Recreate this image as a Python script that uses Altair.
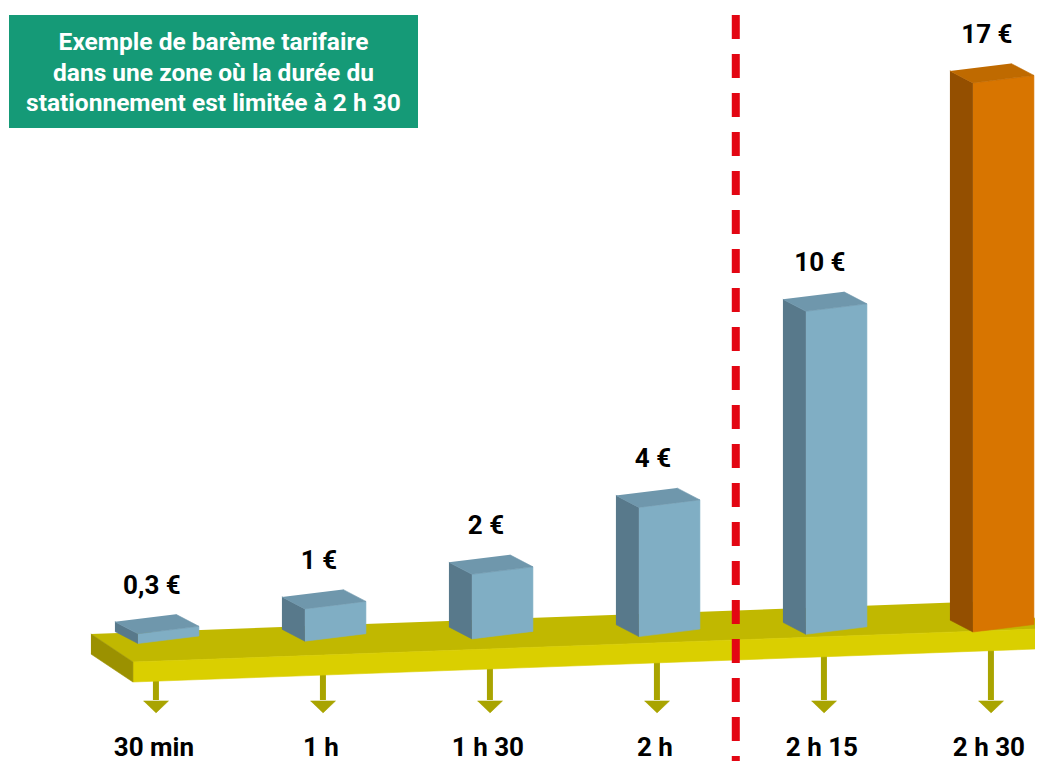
import altair as alt
import pandas as pd

# ---------------- data ----------------
durations = ["30 min", "1 h", "1 h 30", "2 h", "2 h 15", "2 h 30"]
prices = [0.3, 1, 2, 4, 10, 17]
over_limit = [False, False, False, False, False, True]
title_lines = [
    "Exemple de barème tarifaire",
    "dans une zone où la durée du",
    "stationnement est limitée à 2 h 30",
]
limit_position = 3.58  # where the 2 h 30 limit line sits, in category slots

# ---------------- geometry / style ----------------
W, H = 1027, 753
PX_X = 167.0   # pixels per category slot
PX_Y = 32.3    # pixels per euro
X0 = -0.778
X1 = X0 + W / PX_X
Y1 = 635.5 / PX_Y
Y0 = Y1 - H / PX_Y


def sx(p):
    return p / PX_X


def sy(p):
    return p / PX_Y


FONT = "Roboto"

BAR_W = sx(61)
SIDE_DX = sx(-23)
SIDE_DY = sy(12)
SLANT = sy(7.5)
BASE_SLOPE = sy(2.3)

FLOOR_L = sx(-5)
FLOOR_R = 5.4615
FLOOR_FY = -0.573
FLOOR_SLOPE = 0.1889
FLOOR_T = sy(20)
FLOOR_DX = sx(-42)
FLOOR_DY = sy(28)

ARROW_OFF = sx(18)
HEAD_TOP = Y1 - 693 / PX_Y
HEAD_TIP = Y1 - 705 / PX_Y
HEAD_HW = sx(12.5)

BLUE = {"front": "#80AEC4", "side": "#58798B", "top": "#6F97AC"}
ORANGE = {"front": "#D87500", "side": "#944F00", "top": "#BF6A00"}
FLOOR_COL = {"top": "#C1B800", "front": "#DACF00", "side": "#9B9100"}
ARROW_COL = "#A9A400"
RED = "#E30613"
TITLE_BG = "#159A77"


def floor_front_y(x):
    return FLOOR_FY + (x - FLOOR_L) * FLOOR_SLOPE


def add_poly(pid, pts, col, rows_list):
    for k, (x, y) in enumerate(pts):
        rows_list.append({"pid": pid, "k": k, "x": x, "y": y, "col": col})


# floor
floor_rows = []
fl = (FLOOR_L, floor_front_y(FLOOR_L))
fr = (FLOOR_R, floor_front_y(FLOOR_R))
bl = (fl[0] + FLOOR_DX, fl[1] + FLOOR_DY)
br = (fr[0] + FLOOR_DX, fr[1] + FLOOR_DY)
add_poly("floor_top", [bl, fl, fr, br], FLOOR_COL["top"], floor_rows)
add_poly("floor_front", [fl, fr, (fr[0], fr[1] - FLOOR_T), (fl[0], fl[1] - FLOOR_T)], FLOOR_COL["front"], floor_rows)
add_poly("floor_side", [bl, fl, (fl[0], fl[1] - FLOOR_T), (bl[0], bl[1] - FLOOR_T)], FLOOR_COL["side"], floor_rows)
floor_df = pd.DataFrame(floor_rows)

# bars
bar_rows = []
label_rows = []
for i, (d, v, over) in enumerate(zip(durations, prices, over_limit)):
    pal = ORANGE if over else BLUE
    L, R = float(i), i + BAR_W
    b = i * BASE_SLOPE
    t = b + v
    add_poly(f"side{i}", [(L + SIDE_DX, b + SIDE_DY), (L, b), (L, t), (L + SIDE_DX, t + SIDE_DY)], pal["side"], bar_rows)
    add_poly(f"front{i}", [(L, b), (R, b + SLANT), (R, t + SLANT), (L, t)], pal["front"], bar_rows)
    add_poly(f"top{i}", [(L + SIDE_DX, t + SIDE_DY), (L, t), (R, t + SLANT), (R + SIDE_DX, t + SLANT + SIDE_DY)], pal["top"], bar_rows)
    label_rows.append({"x": L + sx(14), "y": t, "txt": f"{v:g}".replace(".", ",") + " €"})
bar_df = pd.DataFrame(bar_rows)
value_df = pd.DataFrame(label_rows)

# arrows and duration labels
stem_rows, head_rows, cat_rows = [], [], []
for i, d in enumerate(durations):
    ax = i + ARROW_OFF
    stem_rows.append({"x": ax, "y": floor_front_y(ax) - FLOOR_T + sy(3), "y2": HEAD_TOP + sy(1)})
    add_poly(f"head{i}", [(ax - HEAD_HW, HEAD_TOP), (ax + HEAD_HW, HEAD_TOP), (ax, HEAD_TIP)], ARROW_COL, head_rows)
    cat_rows.append({"x": ax - sx(2), "y": Y0, "txt": d})
stem_df = pd.DataFrame(stem_rows)
head_df = pd.DataFrame(head_rows)
cat_df = pd.DataFrame(cat_rows)

limit_df = pd.DataFrame([{"x": limit_position, "y": Y1 - 7 / PX_Y, "y2": Y0}])

title_box_df = pd.DataFrame([{"x": X0 + sx(1), "x2": X0 + sx(410), "y": Y1 - 7 / PX_Y, "y2": Y1 - 120 / PX_Y}])
title_df = pd.DataFrame([
    {"x": X0 + sx(205.5), "y": Y1 - 42 / PX_Y - k * sy(30.5), "txt": line}
    for k, line in enumerate(title_lines)
])

# ---------------- chart ----------------
xs = alt.Scale(domain=[X0, X1], nice=False, zero=False)
ys = alt.Scale(domain=[Y0, Y1], nice=False, zero=False)
X = alt.X("x:Q", scale=xs, axis=None)
Y = alt.Y("y:Q", scale=ys, axis=None)


def polys(df):
    return alt.Chart(df).mark_line(filled=True, strokeWidth=0.6, interpolate="linear").encode(
        x=X, y=Y, order=alt.Order("k:Q"), detail="pid:N",
        color=alt.Color("col:N", scale=None),
        stroke=alt.Stroke("col:N", scale=None),
    )


stems = alt.Chart(stem_df).mark_rule(strokeWidth=6, color=ARROW_COL, strokeCap="butt").encode(
    x=X, y=Y, y2="y2:Q")
heads = polys(head_df)
floor = polys(floor_df)
bars = polys(bar_df)
limit = alt.Chart(limit_df).mark_rule(strokeWidth=8, color=RED, strokeDash=[24, 15], strokeCap="butt").encode(
    x=X, y=Y, y2="y2:Q")
values = alt.Chart(value_df).mark_text(font=FONT, fontSize=26, fontWeight="bold", color="#000000",
                                        align="center", baseline="alphabetic", dy=-40).encode(
    x=X, y=Y, text="txt:N")
cats = alt.Chart(cat_df).mark_text(font=FONT, fontSize=26, fontWeight="bold", color="#000000",
                                    align="center", baseline="bottom").encode(
    x=X, y=Y, text="txt:N")
tbox = alt.Chart(title_box_df).mark_rect(color=TITLE_BG).encode(x=X, x2="x2:Q", y=Y, y2="y2:Q")
ttext = alt.Chart(title_df).mark_text(font=FONT, fontSize=24.5, fontWeight="bold", color="#FFFFFF",
                                       align="center", baseline="alphabetic").encode(
    x=X, y=Y, text="txt:N")

chart = alt.layer(stems, heads, floor, bars, limit, values, cats, tbox, ttext).properties(
    width=W, height=H, autosize=alt.AutoSizeParams(type="none"), padding=0,
).configure_view(stroke=None)

chart.save("out.html", embed_options={"renderer": "svg", "actions": False})
